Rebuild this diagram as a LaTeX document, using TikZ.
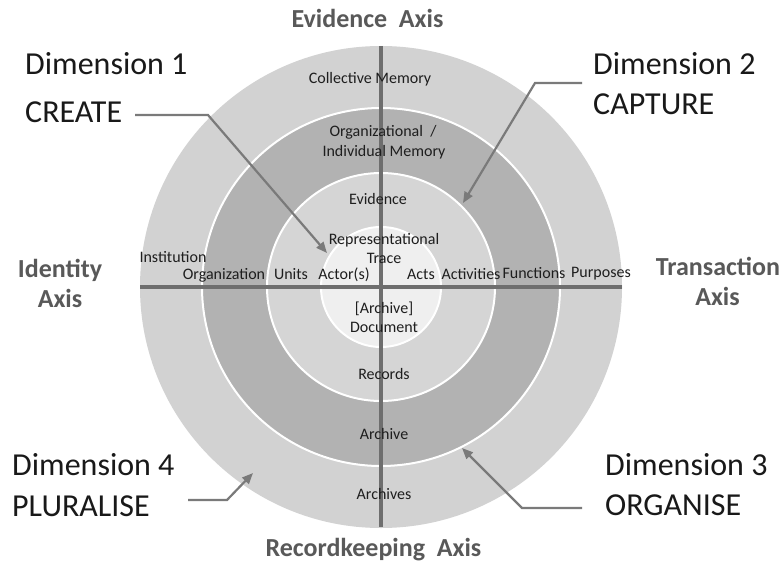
\documentclass[tikz,border=0pt]{standalone}
\usepackage{fontspec}
\setmainfont{Carlito}
\usetikzlibrary{arrows.meta}
\definecolor{outerring}{HTML}{D2D2D2}
\definecolor{darkring}{HTML}{B2B2B2}
\definecolor{midring}{HTML}{D5D5D5}
\definecolor{innerdisc}{HTML}{EFEFEF}
\definecolor{axisline}{HTML}{6E6E6E}
\definecolor{axistext}{HTML}{595959}
\definecolor{arrowgray}{HTML}{7A7A7A}
\definecolor{labeltext}{HTML}{1E1E1E}
\tikzset{
  ring/.style={draw=white, line width=2pt},
  axisln/.style={draw=axisline, line width=4pt},
  small/.style={anchor=base, inner sep=0pt, text=labeltext, font=\fontsize{16}{19}\selectfont},
  axislabel/.style={anchor=base, inner sep=0pt, text=axistext, font=\fontsize{26}{31}\selectfont\bfseries},
  dimlabel/.style={anchor=base west, inner sep=0pt, text=black!90, font=\fontsize{32}{38}\selectfont},
  dimarrow/.style={draw=arrowgray, line width=2.2pt, -{Triangle[length=11pt,width=9pt]}},
}
\begin{document}
\begin{tikzpicture}[x=1pt,y=-1pt]
\useasboundingbox (0,0) rectangle (783,564);
\fill[white] (0,0) rectangle (783,564);
\coordinate (c) at (381,287);
% rings
\fill[outerring] (c) circle[radius=241pt];
\filldraw[fill=darkring, ring] (c) circle[radius=179pt];
\filldraw[fill=midring, ring] (c) circle[radius=114pt];
\filldraw[fill=innerdisc, ring] (c) circle[radius=60pt];
% axes
\coordinate (vtop) at (381,46);
\coordinate (vbot) at (381,527);
\coordinate (hleft) at (140,287);
\coordinate (hright) at (622,287);
\draw[axisln] (vtop) -- (vbot);
\draw[axisln] (hleft) -- (hright);
% ring labels
\node[small] (colmem) at (370,84) {Collective Memory};
\node[small] (orgmem1) at (383,137) {Organizational~~/};
\node[small] (orgmem2) at (384,157) {Individual Memory};
\node[small] (evid) at (378,204) {Evidence};
\node[small] (rep1) at (384,244) {Representational};
\node[small] (rep2) at (384,263) {Trace};
\node[small] (inst) at (173,262) {Institution};
\node[small] (orgn) at (224,279) {Organization};
\node[small] (units) at (291,279) {Units};
\node[small] (actors) at (344,279) {Actor(s)};
\node[small] (acts) at (421,279) {Acts};
\node[small] (activ) at (471,279) {Activities};
\node[small] (funct) at (534,278) {Functions};
\node[small] (purp) at (601,277) {Purposes};
\node[small] (arch1) at (384,313) {[Archive]};
\node[small] (arch2) at (384,332) {Document};
\node[small] (recs) at (384,379) {Records};
\node[small] (archive) at (384,439) {Archive};
\node[small] (archives) at (384,499) {Archives};
% axis labels
\node[axislabel] (evax) at (367.5,28) {Evidence~~Axis};
\node[axislabel] (idax1) at (60,277) {Identity};
\node[axislabel] (idax2) at (60,307) {Axis};
\node[axislabel] (trax1) at (718,275) {Transaction};
\node[axislabel] (trax2) at (717.5,305) {Axis};
\node[axislabel] (rkax) at (373.5,556) {Recordkeeping~~Axis};
% dimension labels
\node[dimlabel] (d1a) at (25,75) {Dimension 1};
\node[dimlabel] (d1b) at (25,123) {CREATE};
\node[dimlabel] (d2a) at (593,75) {Dimension 2};
\node[dimlabel] (d2b) at (593,115) {CAPTURE};
\node[dimlabel] (d4a) at (12,475) {Dimension 4};
\node[dimlabel] (d4b) at (12,516) {PLURALISE};
\node[dimlabel] (d3a) at (605,475) {Dimension 3};
\node[dimlabel] (d3b) at (605,515) {ORGANISE};
% arrow coordinates
\coordinate (a1s) at (135,115);
\coordinate (a1b) at (208,115);
\coordinate (a1t) at (327,253);
\coordinate (a2s) at (582,83);
\coordinate (a2b) at (535,83);
\coordinate (a2t) at (463,203);
\coordinate (a3s) at (582,508);
\coordinate (a3b) at (522,508);
\coordinate (a3t) at (462,448);
\coordinate (a4s) at (188,500);
\coordinate (a4b) at (227,500);
\coordinate (a4t) at (253,473);
\draw[dimarrow] (a1s) -- (a1b) -- (a1t);
\draw[dimarrow] (a2s) -- (a2b) -- (a2t);
\draw[dimarrow] (a3s) -- (a3b) -- (a3t);
\draw[dimarrow] (a4s) -- (a4b) -- (a4t);
\end{tikzpicture}
\end{document}
